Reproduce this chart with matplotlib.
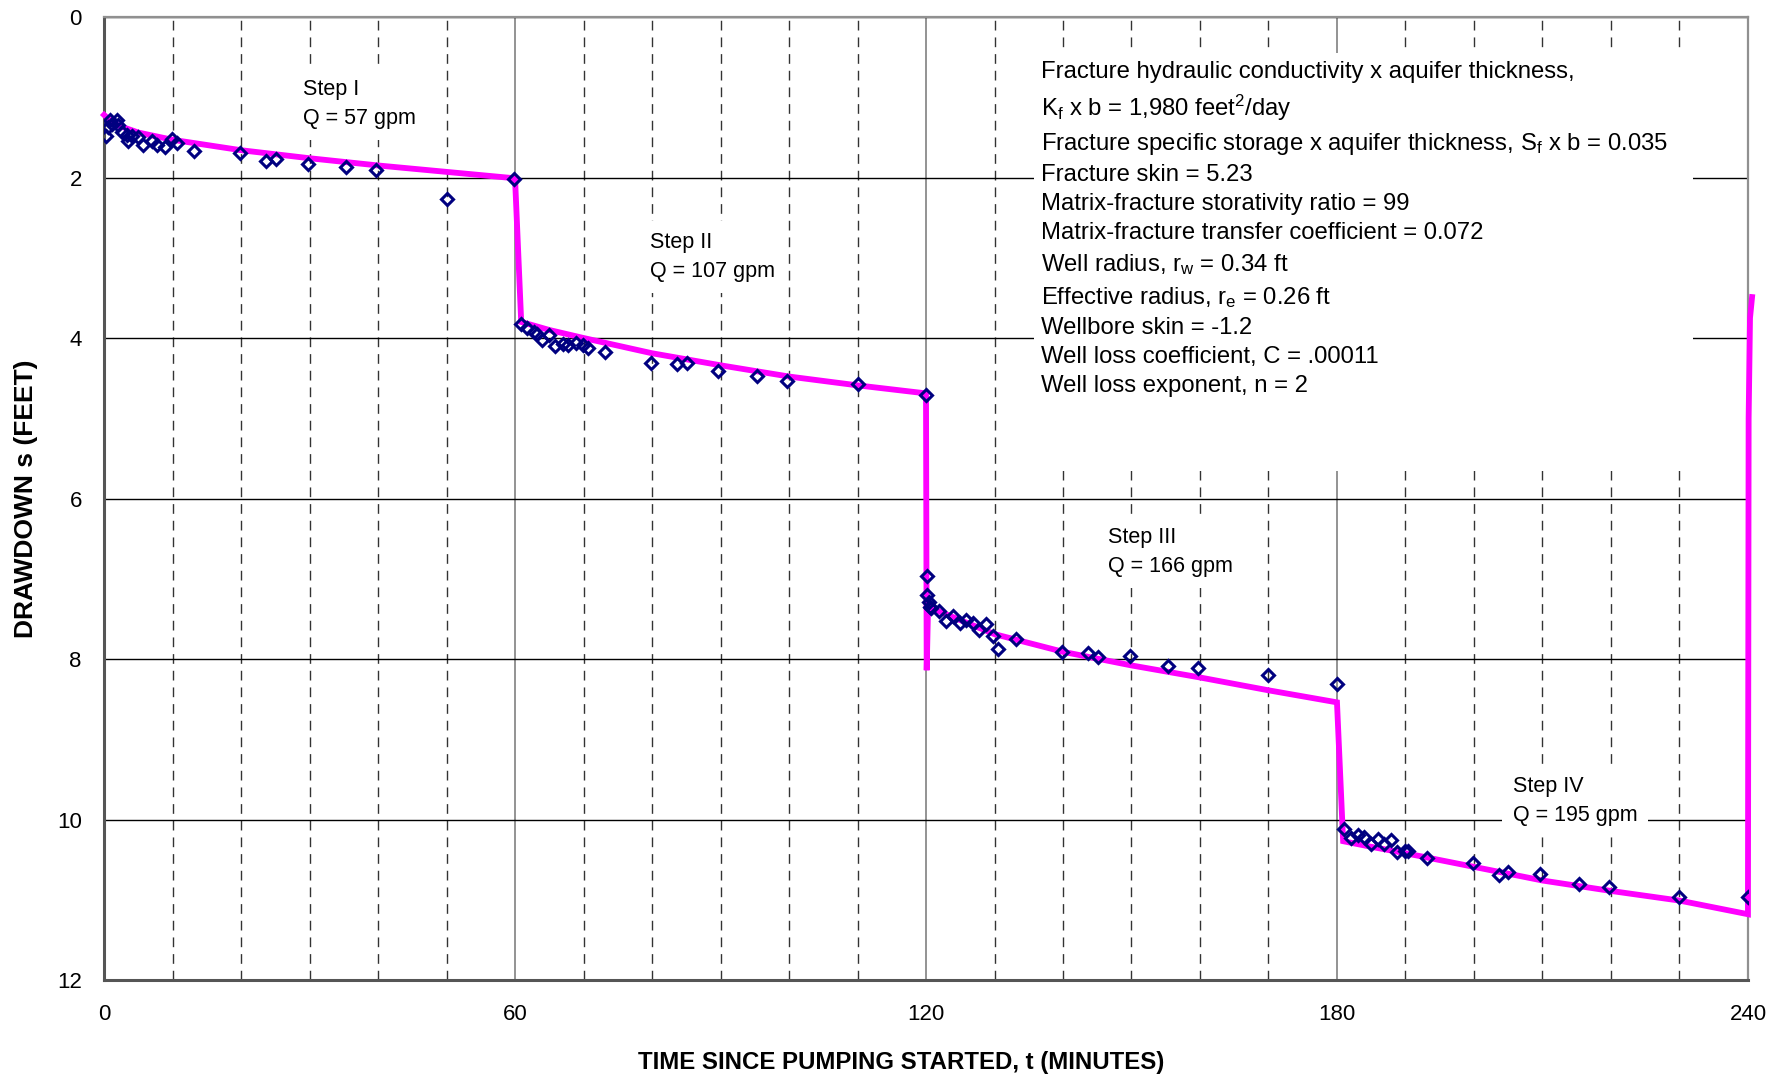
import matplotlib
matplotlib.use("Agg")
import matplotlib.pyplot as plt
from matplotlib.ticker import MultipleLocator, FixedLocator
from matplotlib.patches import Rectangle

plt.rcParams['font.family'] = ['Liberation Sans', 'DejaVu Sans']
plt.rcParams['mathtext.fontset'] = 'custom'
plt.rcParams['mathtext.rm'] = 'Liberation Sans'
plt.rcParams['mathtext.it'] = 'Liberation Sans:italic'

# Observed drawdown (minutes, feet)
obs_t = [0.25, 0.54, 0.88, 1.2, 1.85, 2.1, 2.6, 3.3, 3.55, 4.1, 4.9, 5.7, 6.96, 7.8, 8.9, 9.9, 10.6,
         13.2, 19.8, 23.6, 25.1, 29.8, 35.3, 39.7, 50.0, 59.9,
         60.8, 61.8, 62.7, 63.2, 63.9, 65.0, 65.8, 67.0, 67.8, 68.9, 69.9, 70.6, 73.1, 79.9, 83.6,
         85.1, 89.7, 95.3, 99.7, 110.0, 120.0,
         120.1, 120.2, 120.4, 120.6, 120.8, 121.9, 122.9, 123.9, 124.9, 125.8, 126.9, 127.8, 128.8,
         129.8, 130.5, 133.2, 139.8, 143.6, 145.1, 149.8, 155.4, 159.7, 170.0, 180.0,
         181.0, 182.0, 183.0, 183.9, 184.9, 186.0, 186.9, 187.9, 188.8, 190.0, 190.4, 193.2, 199.8,
         203.6, 205.0, 209.7, 215.4, 219.7, 230.0, 240.0]
obs_s = [1.48, 1.37, 1.28, 1.33, 1.28, 1.35, 1.43, 1.47, 1.54, 1.48, 1.49, 1.60, 1.55, 1.60, 1.62, 1.52, 1.57,
         1.67, 1.69, 1.79, 1.77, 1.83, 1.87, 1.91, 2.27, 2.02,
         3.83, 3.87, 3.92, 3.95, 4.03, 3.96, 4.10, 4.07, 4.09, 4.06, 4.09, 4.13, 4.17, 4.31, 4.32,
         4.31, 4.41, 4.47, 4.53, 4.57, 4.71,
         6.96, 7.20, 7.29, 7.35, 7.37, 7.40, 7.53, 7.46, 7.55, 7.52, 7.55, 7.64, 7.56,
         7.71, 7.87, 7.75, 7.91, 7.93, 7.97, 7.96, 8.09, 8.11, 8.20, 8.31,
         10.12, 10.23, 10.19, 10.22, 10.30, 10.24, 10.30, 10.26, 10.40, 10.39, 10.39, 10.48, 10.54,
         10.69, 10.66, 10.68, 10.80, 10.84, 10.97, 10.96]

# Simulated drawdown (model curve)
sim_t = [0.0, 1.0, 2.0, 5.0, 10.0, 20.0, 30.0, 40.0, 50.0, 60.0,
         60.9, 65.0, 70.0, 80.0, 90.0, 100.0, 110.0, 120.0,
         120.1, 120.3, 125.7, 130.0, 140.0, 150.0, 160.0, 170.0, 180.0,
         180.9, 185.0, 190.0, 200.0, 210.0, 220.0, 230.0, 240.0,
         240.1, 240.3, 240.6]
sim_s = [1.22, 1.30, 1.35, 1.44, 1.53, 1.66, 1.76, 1.85, 1.93, 2.01,
         3.80, 3.90, 4.00, 4.19, 4.34, 4.48, 4.59, 4.69,
         8.14, 7.35, 7.54, 7.69, 7.91, 8.08, 8.23, 8.39, 8.54,
         10.27, 10.34, 10.42, 10.59, 10.76, 10.89, 11.01, 11.18,
         5.0, 3.75, 3.49]

x_ticks = [0, 60, 120, 180, 240]
y_ticks = [0, 2, 4, 6, 8, 10, 12]

step_labels = ["Step I\nQ = 57 gpm", "Step II\nQ = 107 gpm", "Step III\nQ = 166 gpm", "Step IV\nQ = 195 gpm"]
step_pos = [(29.0, 1.09), (79.7, 2.99), (146.5, 6.67), (205.7, 9.77)]

params = ("Fracture hydraulic conductivity x aquifer thickness,\n"
          "K$_\\mathregular{f}$ x b = 1,980 feet$^\\mathregular{2}$/day\n"
          "Fracture specific storage x aquifer thickness, S$_\\mathregular{f}$ x b = 0.035\n"
          "Fracture skin = 5.23\n"
          "Matrix-fracture storativity ratio = 99\n"
          "Matrix-fracture transfer coefficient = 0.072\n"
          "Well radius, r$_\\mathregular{w}$ = 0.34 ft\n"
          "Effective radius, r$_\\mathregular{e}$ = 0.26 ft\n"
          "Wellbore skin = -1.2\n"
          "Well loss coefficient, C = .00011\n"
          "Well loss exponent, n = 2")

fig = plt.figure(figsize=(17.88, 10.76), dpi=100)
ax = fig.add_axes([0.0582, 0.0892, 0.9194, 0.8950])

ax.set_xlim(0, 240)
ax.set_ylim(12, 0)
ax.xaxis.set_major_locator(FixedLocator(x_ticks))
ax.yaxis.set_major_locator(FixedLocator(y_ticks))
ax.xaxis.set_minor_locator(MultipleLocator(10))

ax.grid(True, which='major', axis='y', color='black', lw=1.0, zorder=0)
ax.grid(True, which='major', axis='x', color='#808080', lw=1.2, zorder=0)
ax.grid(True, which='minor', axis='x', color='#333333', lw=1.0, ls=(0, (7, 5)), zorder=0)
ax.set_axisbelow(True)

ax.tick_params(axis='both', which='both', length=0, labelsize=16)
ax.tick_params(axis='x', pad=17)
ax.tick_params(axis='y', pad=16)

for side in ['left', 'bottom']:
    ax.spines[side].set_color('#555555')
    ax.spines[side].set_linewidth(2.2)
for side in ['top', 'right']:
    ax.spines[side].set_color('#909090')
    ax.spines[side].set_linewidth(1.6)

# white background behind the parameter list
ax.add_patch(Rectangle((135.8, 0.45), 96.2, 5.21, facecolor='white', edgecolor='none', zorder=1))

ax.plot(sim_t, sim_s, color='#FF00FF', lw=4.2, zorder=3, clip_on=False, solid_joinstyle='miter')
ax.plot(obs_t, obs_s, ls='none', marker='D', ms=6.4, mfc='none', mec='#000080', mew=2.2, zorder=4)

for lab, (tx, ty) in zip(step_labels, step_pos):
    ax.text(tx, ty, lab, fontsize=15.5, ha='left', va='center', linespacing=1.5, zorder=2,
            bbox=dict(boxstyle='square,pad=0.5', facecolor='white', edgecolor='none'))

ax.text(136.8, 0.545, params, fontsize=17.2, ha='left', va='top', linespacing=1.42, zorder=2)

ax.set_xlabel("TIME SINCE PUMPING STARTED, t (MINUTES)", fontsize=17.3, fontweight='bold', labelpad=19)
ax.xaxis.label.set_x(0.4847)
ax.set_ylabel("DRAWDOWN s (FEET)", fontsize=19, fontweight='bold', labelpad=14)

fig.savefig("out.png", dpi=100)
